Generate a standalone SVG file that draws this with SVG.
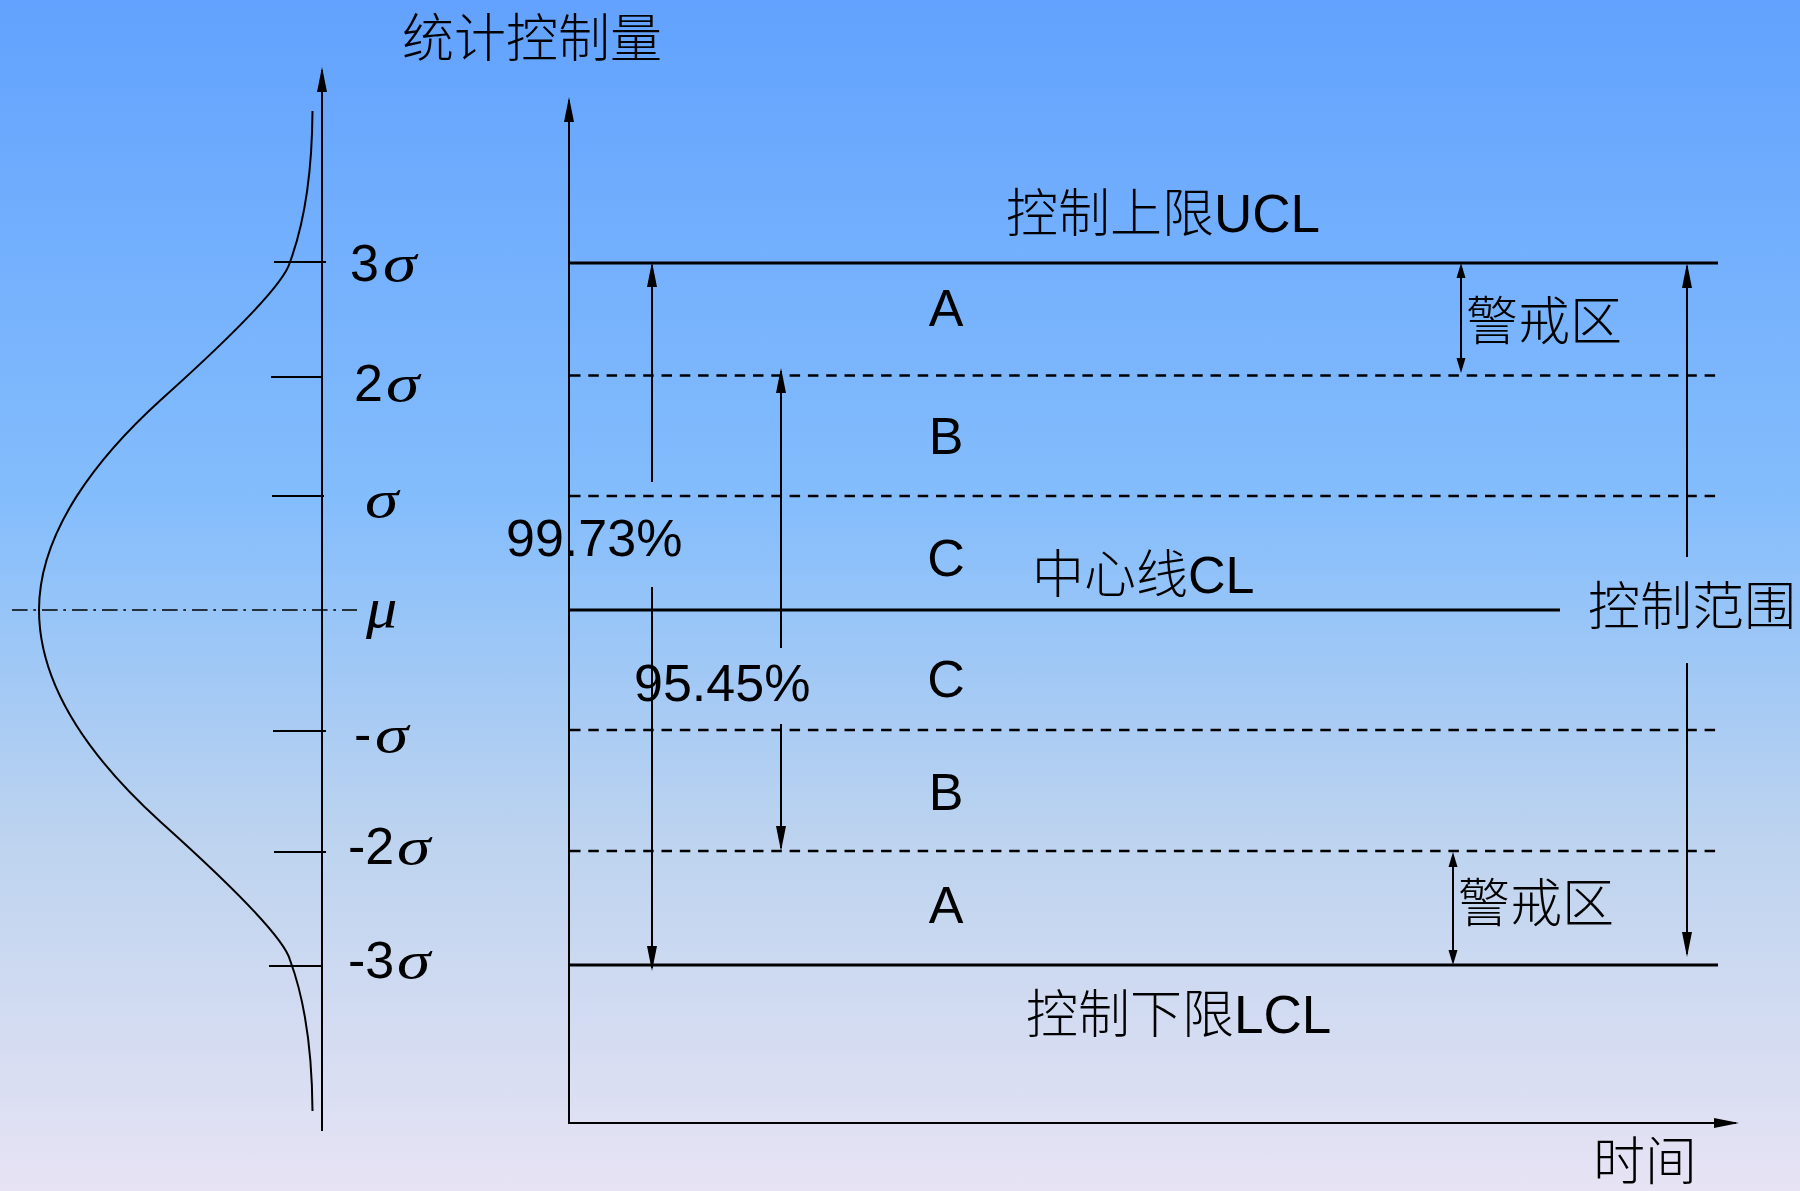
<svg xmlns="http://www.w3.org/2000/svg" width="1800" height="1191" viewBox="0 0 1800 1191">
  <defs>
    <linearGradient id="bg" x1="0" y1="0" x2="0" y2="1">
      <stop offset="0" stop-color="#62a2fe"/>
      <stop offset="0.42" stop-color="#84bdfc"/>
      <stop offset="0.7" stop-color="#bcd3ef"/>
      <stop offset="1" stop-color="#e7e3f4"/>
    </linearGradient>
    <marker id="arrL" markerUnits="userSpaceOnUse" markerWidth="26" markerHeight="12" refX="22" refY="5" orient="auto-start-reverse" viewBox="0 0 26 10">
      <path d="M0,0 L25,5 L0,10 Z" fill="#000"/>
    </marker>
    <marker id="arrS" markerUnits="userSpaceOnUse" markerWidth="16" markerHeight="12" refX="12" refY="4.5" orient="auto-start-reverse" viewBox="0 0 16 9">
      <path d="M0,0 L15,4.5 L0,9 Z" fill="#000"/>
    </marker>
    <style>
      .txt { font-family: "Liberation Sans", "Noto Sans CJK SC", sans-serif; font-size: 52px; fill: #000; }
      .cjk { font-family: "Noto Sans CJK SC", sans-serif; font-weight: 300; }
      .greek { font-family: "Liberation Serif", serif; font-style: italic; font-size: 52px; fill: #000; }
      .ln { stroke: #000; stroke-width: 2; fill: none; }
      .solid { stroke: #000; stroke-width: 3; fill: none; }
      .dash { stroke: #000; stroke-width: 2.5; stroke-dasharray: 10.5 7.8; fill: none; }
      .dashdot { stroke: #000; stroke-width: 1.5; stroke-dasharray: 15.6 5.7 2.7 6; fill: none; }
      .arrL { stroke: #000; stroke-width: 2; fill: none; marker-end: url(#arrL); }
      .arrD { stroke: #000; stroke-width: 2; fill: none; marker-start: url(#arrS); marker-end: url(#arrS); }
    </style>
  </defs>

  <rect x="0" y="0" width="1800" height="1191" fill="url(#bg)"/>

  <!-- Left: distribution curve -->
  <g id="distribution">
    <path class="ln" d="M312.5,111 C312,190 300,235 290,262 C284,285 222,345 160.7,400 C100,455 39,530 39,610 C39,692 100,767 160.7,822 C222,877 284,937 290,960 C300,987 312,1032 312.5,1111"/>
    <line class="dashdot" x1="12" y1="610" x2="357" y2="610"/>
    <g id="ticks">
      <line class="ln" x1="274" y1="262" x2="326" y2="262"/>
      <line class="ln" x1="271" y1="377" x2="322" y2="377"/>
      <line class="ln" x1="272" y1="496" x2="324" y2="496"/>
      <line class="ln" x1="273" y1="731" x2="326" y2="731"/>
      <line class="ln" x1="274" y1="852" x2="326" y2="852"/>
      <line class="ln" x1="269" y1="966" x2="322" y2="966"/>
    </g>
  </g>

  <g id="sigma-labels">
    <g id="lbl-3s"><text class="txt" x="350" y="281">3</text><text class="greek" transform="translate(383,281) scale(1.3,1)">σ</text></g>
    <g id="lbl-2s"><text class="txt" x="354" y="401">2</text><text class="greek" transform="translate(386,401) scale(1.3,1)">σ</text></g>
    <g id="lbl-1s"><text class="greek" transform="translate(365,517) scale(1.3,1)">σ</text></g>
    <g id="lbl-mu"><text class="greek" transform="translate(366,627) scale(1.2,1.1)">μ</text></g>
    <g id="lbl-m1s"><text class="txt" x="354" y="752">-</text><text class="greek" transform="translate(375,752) scale(1.3,1)">σ</text></g>
    <g id="lbl-m2s"><text class="txt" x="348" y="864">-2</text><text class="greek" transform="translate(397,864) scale(1.3,1)">σ</text></g>
    <g id="lbl-m3s"><text class="txt" x="348" y="978">-3</text><text class="greek" transform="translate(397,978) scale(1.3,1)">σ</text></g>
  </g>

  <!-- Right: control chart lines -->
  <g id="control-lines">
    <line id="ucl" class="solid" x1="569" y1="263" x2="1718" y2="263"/>
    <line class="dash" x1="570" y1="375.5" x2="1718" y2="375.5"/>
    <line class="dash" x1="570" y1="496" x2="1718" y2="496"/>
    <line id="cl" class="solid" x1="569" y1="610" x2="1560" y2="610"/>
    <line class="dash" x1="570" y1="730" x2="1718" y2="730"/>
    <line class="dash" x1="570" y1="851" x2="1718" y2="851"/>
    <line id="lcl" class="solid" x1="569" y1="965" x2="1718" y2="965"/>
  </g>

  <!-- Connectors / arrows -->
  <g id="connectors">
    <line class="arrL" x1="322" y1="1131" x2="322" y2="70"/>
    <line class="arrL" x1="569" y1="1124" x2="569" y2="100"/>
    <line class="arrL" x1="568" y1="1123" x2="1736" y2="1123"/>
    <line class="arrL" x1="652" y1="482" x2="652" y2="265"/>
    <line class="arrL" x1="652" y1="587" x2="652" y2="968"/>
    <line class="arrL" x1="781" y1="648" x2="781" y2="371"/>
    <line class="arrL" x1="781" y1="724" x2="781" y2="848"/>
    <line class="arrL" x1="1687" y1="557" x2="1687" y2="266"/>
    <line class="arrL" x1="1687" y1="663" x2="1687" y2="954"/>
    <line class="arrD" x1="1461" y1="266" x2="1461" y2="370"/>
    <line class="arrD" x1="1453" y1="855" x2="1453" y2="962"/>
  </g>

  <!-- Labels -->
  <g id="node-title"><text class="txt cjk" x="402" y="57" font-size="53">统计控制量</text></g>
  <g id="node-ucl"><text class="txt" x="1006" y="232"><tspan class="cjk">控制上限</tspan><tspan font-size="53">UCL</tspan></text></g>
  <g id="node-cl"><text class="txt" x="1032" y="593"><tspan class="cjk">中心线</tspan>CL</text></g>
  <g id="node-lcl"><text class="txt" x="1026" y="1033"><tspan class="cjk">控制下限</tspan><tspan font-size="53">LCL</tspan></text></g>
  <g id="node-warn-top"><text class="txt cjk" x="1466" y="340">警戒区</text></g>
  <g id="node-warn-bottom"><text class="txt cjk" x="1458" y="922">警戒区</text></g>
  <g id="node-range"><text class="txt cjk" x="1588" y="625">控制范围</text></g>
  <g id="node-time"><text class="txt cjk" x="1593" y="1180">时间</text></g>
  <g id="node-9973"><text class="txt" x="506" y="556">99.73%</text></g>
  <g id="node-9545"><text class="txt" x="634" y="701">95.45%</text></g>

  <g id="zones" class="txt" text-anchor="middle">
    <text x="946" y="326">A</text>
    <text x="946" y="454">B</text>
    <text x="946" y="576">C</text>
    <text x="946" y="697">C</text>
    <text x="946" y="810">B</text>
    <text x="946" y="923">A</text>
  </g>
</svg>
